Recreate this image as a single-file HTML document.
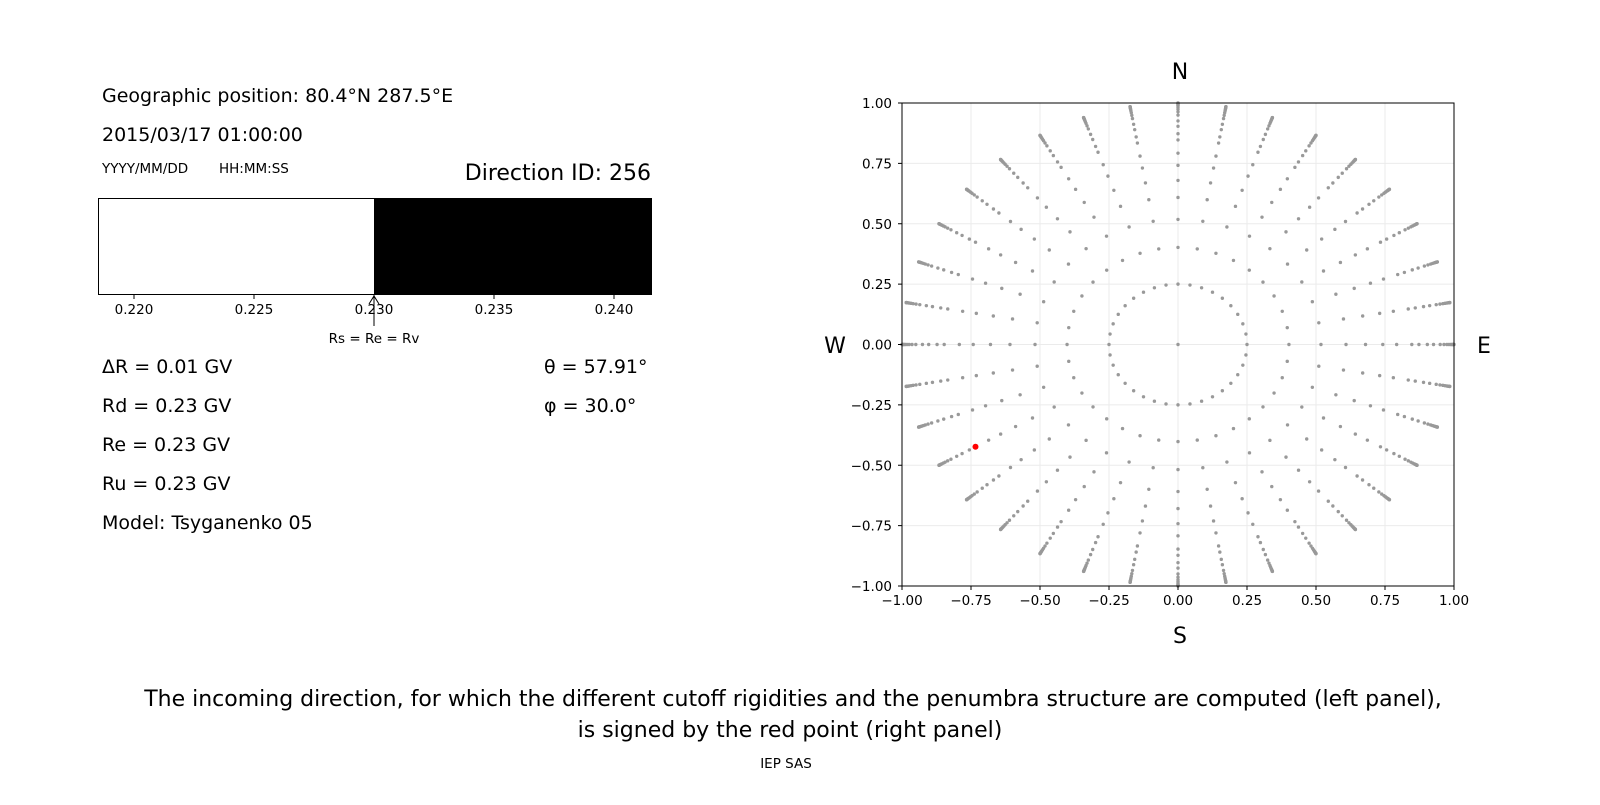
<!DOCTYPE html>
<html><head><meta charset="utf-8"><style>
body{margin:0;background:#fff;}
svg text{font-family:"DejaVu Sans","Liberation Sans",sans-serif;}
</style></head><body>
<svg id="s" width="1600" height="800" viewBox="0 0 1600 800" xmlns="http://www.w3.org/2000/svg">
<rect width="1600" height="800" fill="#fff"/>
<g font-size="19" fill="#000">
<text x="102" y="102">Geographic position: 80.4°N 287.5°E</text>
<text x="102" y="141">2015/03/17 01:00:00</text>
<text x="651" y="180" font-size="22" text-anchor="end">Direction ID: 256</text>
<text x="102" y="373">ΔR = 0.01 GV</text>
<text x="102" y="412">Rd = 0.23 GV</text>
<text x="102" y="451">Re = 0.23 GV</text>
<text x="102" y="490">Ru = 0.23 GV</text>
<text x="102" y="529">Model: Tsyganenko 05</text>
<text x="544" y="373">θ = 57.91°</text>
<text x="544" y="412">φ = 30.0°</text>
</g>
<g font-size="13.5"><text x="102" y="173">YYYY/MM/DD</text><text x="219" y="173">HH:MM:SS</text></g>
<rect x="98.5" y="198.5" width="553" height="96" fill="#fff" stroke="#000"/>
<rect x="374" y="198" width="278" height="97" fill="#000"/>
<g stroke="#000"><line x1="134" y1="295" x2="134" y2="299"/><line x1="254" y1="295" x2="254" y2="299"/><line x1="374" y1="295" x2="374" y2="299"/><line x1="494" y1="295" x2="494" y2="299"/><line x1="614" y1="295" x2="614" y2="299"/>
<line x1="374" y1="326" x2="374" y2="297"/><path d="M369,304 L374,296 L379,304" fill="none"/></g>
<g font-size="13.5" text-anchor="middle"><text x="134" y="314">0.220</text><text x="254" y="314">0.225</text><text x="374" y="314">0.230</text><text x="494" y="314">0.235</text><text x="614" y="314">0.240</text><text x="374" y="343">Rs = Re = Rv</text></g>
<g id="grid"></g><g id="pts"></g>
<rect x="902" y="103" width="552" height="483" fill="none" stroke="#000"/>
<g id="ticks" font-size="13.5"></g>
<g font-size="22" text-anchor="middle"><text x="1180" y="79">N</text><text x="1180" y="643">S</text><text x="835" y="353">W</text><text x="1484" y="353">E</text></g>
<g font-size="22" text-anchor="middle"><text x="793" y="706">The incoming direction, for which the different cutoff rigidities and the penumbra structure are computed (left panel),</text><text x="790" y="737">is signed by the red point (right panel)</text></g>
<text x="786" y="768" font-size="13.5" text-anchor="middle">IEP SAS</text>
</svg>
<script>
var NS="http://www.w3.org/2000/svg";
function X(v){return 902+(v+1)*276;}function Y(v){return 344.5-v*241.5;}
function el(p,t,a){var e=document.createElementNS(NS,t);for(var k in a)e.setAttribute(k,a[k]);p.appendChild(e);return e;}
var g=document.getElementById("grid"),tk=document.getElementById("ticks"),pts=document.getElementById("pts");
for(var i=0;i<=8;i++){var v=-1+i*0.25;var lab=v.toFixed(2).replace("-","\u2212");
 el(g,"line",{x1:X(v),x2:X(v),y1:103,y2:586,stroke:"#ebebeb"});
 el(g,"line",{y1:Y(v),y2:Y(v),x1:902,x2:1454,stroke:"#ebebeb"});
 el(tk,"line",{x1:X(v),x2:X(v),y1:586,y2:590,stroke:"#000"});
 el(tk,"line",{y1:Y(v),y2:Y(v),x1:898,x2:902,stroke:"#000"});
 var t=el(tk,"text",{x:X(v),y:605,"text-anchor":"middle"});t.textContent=lab;
 t=el(tk,"text",{x:892,y:Y(v)+5,"text-anchor":"end"});t.textContent=lab;}
var zen=[23.7,31.2,37.5,42.8,47.9,52.4,57.9,60.8,64.6,67.8,71.8,74.5,77,79,81,82.5,84,85.5,87,88.5,90];
function dot(x,y,c,r){el(pts,"circle",{cx:X(x),cy:Y(y),r:r,fill:c});}
dot(0,0,"#999",1.7);
for(var a=0;a<360;a+=10){var ra=a*Math.PI/180;dot(0.25*Math.cos(ra),0.25*Math.sin(ra),"#999",1.7);
 for(var j=0;j<zen.length;j++){var r=Math.sin(zen[j]*Math.PI/180);dot(r*Math.cos(ra),r*Math.sin(ra),"#999",1.7);}}
var rr=Math.sin(57.91*Math.PI/180);dot(-rr*Math.cos(Math.PI/6),-rr*Math.sin(Math.PI/6),"#ff0000",3);
</script>
</body></html>
